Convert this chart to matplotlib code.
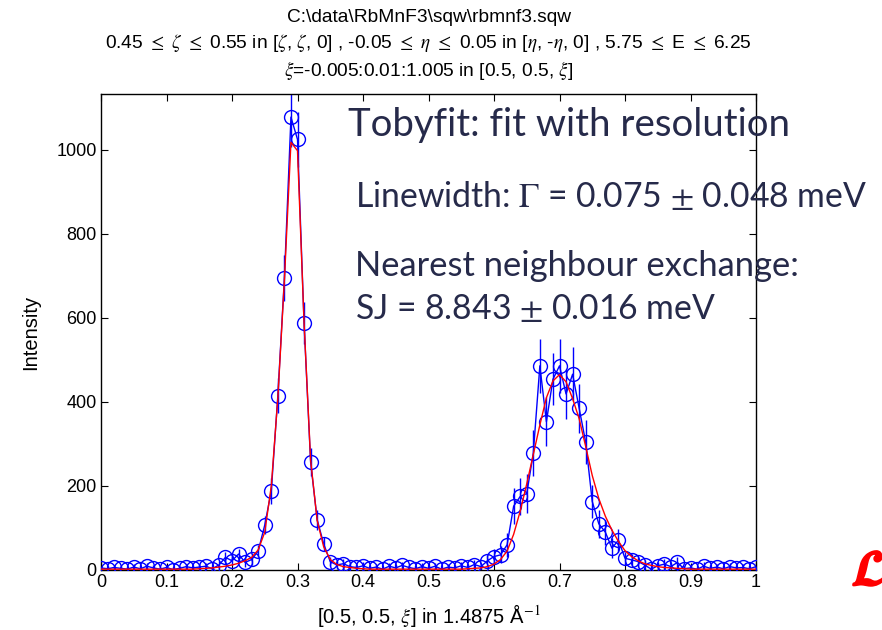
import numpy as np
import matplotlib
matplotlib.use("Agg")
import matplotlib.pyplot as plt
import matplotlib.patheffects as pe

plt.rcParams['font.family'] = ['Liberation Sans', 'DejaVu Sans']
plt.rcParams['mathtext.fontset'] = 'stix'

xi = [round(0.01 * i, 2) for i in range(101)]

intensity = [5, 3, 6, 4, 2, 7, 3, 9, 5, 2,
             6, 1, 4, 8, 5, 7, 9, 3, 12, 30,
             22, 38, 18, 25, 45, 107, 188, 415, 695, 1078,
             1025, 588, 257, 120, 62, 20, 12, 15, 8, 6,
             10, 4, 7, 2, 9, 5, 11, 6, 3, 8,
             4, 9, 2, 7, 5, 10, 6, 13, 8, 22,
             32, 36, 60, 152, 175, 182, 278, 486, 353, 454,
             486, 419, 466, 385, 304, 163, 110, 90, 52, 71,
             28, 24, 20, 12, 2, 10, 14, 8, 18, 3,
             5, 2, 9, 4, 7, 3, 8, 5, 6, 3, 8]

errors = [7, 6, 7, 6, 6, 7, 6, 8, 7, 6,
          7, 6, 6, 7, 7, 7, 8, 6, 9, 12,
          11, 13, 10, 12, 15, 22, 30, 42, 55, 70,
          65, 50, 34, 24, 17, 11, 9, 10, 8, 7,
          8, 6, 7, 6, 8, 7, 9, 7, 6, 8,
          7, 8, 6, 7, 7, 9, 8, 10, 8, 14,
          18, 20, 28, 42, 45, 46, 55, 65, 58, 62,
          64, 60, 64, 58, 52, 40, 34, 30, 24, 27,
          16, 15, 14, 11, 7, 10, 11, 9, 12, 7,
          8, 6, 9, 7, 8, 7, 8, 7, 8, 7, 8]

fit = [2, 2, 2, 2, 2, 2, 2, 2, 2, 2,
       2, 2, 2, 2, 2, 3, 4, 5, 7, 9,
       12, 16, 22, 30, 48, 90, 200, 410, 690, 1018,
       998, 590, 262, 118, 55, 25, 13, 8, 6, 4,
       3, 2, 2, 2, 2, 2, 2, 2, 2, 2,
       2, 2, 2, 2, 2, 2, 3, 4, 5, 8,
       14, 25, 45, 85, 140, 205, 275, 345, 410, 450,
       465, 448, 408, 360, 294, 225, 170, 128, 95, 68,
       46, 32, 22, 15, 11, 8, 6, 5, 4, 3,
       2, 2, 2, 2, 2, 2, 2, 2, 2, 2, 2]

xticks = [0, 0.1, 0.2, 0.3, 0.4, 0.5, 0.6, 0.7, 0.8, 0.9, 1]
xticklabels = ['0', '0.1', '0.2', '0.3', '0.4', '0.5', '0.6', '0.7', '0.8', '0.9', '1']
yticks = [0, 200, 400, 600, 800, 1000]

title_lines = [r"C:\data\RbMnF3\sqw\rbmnf3.sqw",
               r"0.45 $\leq$ $\zeta$ $\leq$ 0.55 in [$\zeta$, $\zeta$, 0] , -0.05 $\leq$ $\eta$ $\leq$ 0.05 in [$\eta$, -$\eta$, 0] , 5.75 $\leq$ E $\leq$ 6.25",
               r"$\xi$=-0.005:0.01:1.005 in [0.5, 0.5, $\xi$]"]

fig = plt.figure(figsize=(8.82, 6.3), dpi=100)
ax = fig.add_axes([101/882, 1 - 570/630, 655/882, (570 - 94)/630])

ax.errorbar(xi, intensity, yerr=errors, fmt='none', ecolor='#0000ff', elinewidth=1.0, capsize=0, zorder=2)
ax.plot(xi, intensity, '-', color='#0000ff', lw=1.0, zorder=3)
ax.plot(xi, intensity, 'o', mfc='none', mec='#0000ff', ms=10, mew=1.0, zorder=4)
ax.plot(xi, fit, '-', color='#ff0000', lw=1.0, zorder=5)

ax.set_xlim(0, 1)
ax.set_ylim(0, 1133)
ax.set_xticks(xticks)
ax.set_xticklabels(xticklabels)
ax.set_yticks(yticks)
ax.tick_params(direction='in', top=True, right=True, labelsize=13, length=5, width=0.8, pad=3)
for s in ax.spines.values():
    s.set_linewidth(1.0)

ax.set_ylabel('Intensity', fontsize=14.5, labelpad=12)
ax.set_xlabel(r'[0.5, 0.5, $\xi$] in 1.4875 Å$^{-1}$', fontsize=14.5, labelpad=8)

for i, line in enumerate(title_lines):
    fig.text(428.5/882, 1 - (17 + 26.5*i)/630, line, ha='center', va='center', fontsize=13.8)

navy = '#262a4a'
fig.text(348/882, 1 - 125/630, 'Tobyfit: fit with resolution', family=['Lato', 'DejaVu Sans'],
         fontsize=27.6, color=navy, ha='left', va='center')
fig.text(355/882, 1 - 197/630, r'Linewidth: $\Gamma$ = 0.075 $\pm$ 0.048 meV', family=['Lato', 'DejaVu Sans'],
         fontsize=24.3, color=navy, ha='left', va='center')
fig.text(355/882, 1 - 266/630, 'Nearest neighbour exchange:', family=['Lato', 'DejaVu Sans'],
         fontsize=24.8, color=navy, ha='left', va='center')
fig.text(355/882, 1 - 309/630, r'SJ = 8.843 $\pm$ 0.016 meV', family=['Lato', 'DejaVu Sans'],
         fontsize=24.3, color=navy, ha='left', va='center')

fig.text(852/882, 1 - 572/630, r'$\mathcal{L}$', fontsize=36, color='#ff0000', ha='left', va='center',
         path_effects=[pe.withStroke(linewidth=2, foreground='#ff0000')])

fig.savefig('out.png', dpi=100)
